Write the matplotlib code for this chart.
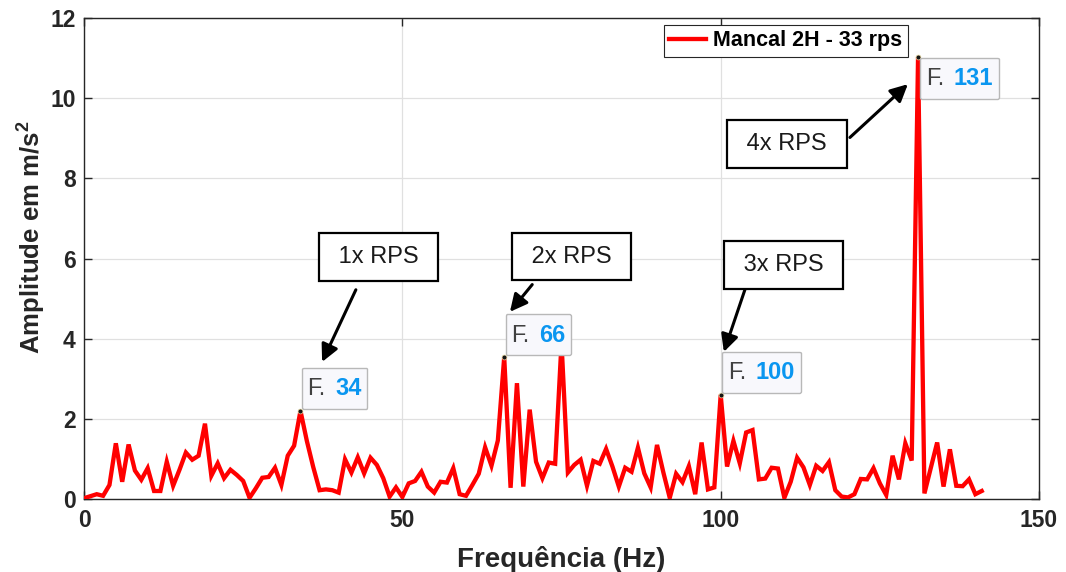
import matplotlib
matplotlib.use("Agg")
import matplotlib.pyplot as plt
from matplotlib.offsetbox import (TextArea, HPacker, VPacker, DrawingArea,
                                  AnnotationBbox)

plt.rcParams["font.family"] = ["Liberation Sans", "DejaVu Sans"]
plt.rcParams["mathtext.fontset"] = "custom"
plt.rcParams["mathtext.rm"] = "Liberation Sans"
plt.rcParams["mathtext.bf"] = "Liberation Sans:bold"

# Vibration spectrum of bearing 2H at 33 rps (1 Hz bins)
freq_hz = list(range(0, 142))
amplitude = [
    0.02, 0.07, 0.12, 0.08, 0.35, 1.39, 0.43, 1.36, 0.71, 0.48,
    0.77, 0.20, 0.20, 0.93, 0.33, 0.73, 1.16, 0.98, 1.08, 1.88,
    0.58, 0.89, 0.52, 0.73, 0.60, 0.45, 0.03, 0.27, 0.53, 0.55,
    0.78, 0.35, 1.08, 1.33, 2.20, 1.45, 0.80, 0.22, 0.24, 0.22,
    0.16, 0.99, 0.66, 1.04, 0.64, 1.03, 0.85, 0.52, 0.06, 0.29,
    0.05, 0.39, 0.45, 0.68, 0.31, 0.16, 0.43, 0.41, 0.77, 0.12,
    0.08, 0.35, 0.63, 1.29, 0.83, 1.46, 3.54, 0.28, 2.89, 0.31,
    2.23, 0.93, 0.52, 0.91, 0.88, 3.90, 0.66, 0.85, 0.98, 0.33,
    0.95, 0.88, 1.25, 0.81, 0.31, 0.78, 0.68, 1.28, 0.64, 0.29,
    1.35, 0.66, 0.03, 0.63, 0.42, 0.82, 0.12, 1.41, 0.24, 0.29,
    2.60, 0.81, 1.45, 0.89, 1.66, 1.72, 0.49, 0.51, 0.78, 0.76,
    0.03, 0.43, 1.03, 0.79, 0.35, 0.83, 0.70, 0.92, 0.22, 0.06,
    0.04, 0.12, 0.50, 0.49, 0.77, 0.39, 0.10, 1.08, 0.49, 1.39,
    0.96, 11.03, 0.14, 0.77, 1.41, 0.31, 1.24, 0.33, 0.32, 0.49,
    0.12, 0.20,
]
series_label = "Mancal 2H - 33 rps"

# Harmonic peaks marked with data tips
tip_freqs = [34, 66, 100, 131]
harmonic_labels = ["1x RPS", "2x RPS", "3x RPS", "4x RPS"]
x_ticks = [0, 50, 100, 150]
y_ticks = [0, 2, 4, 6, 8, 10, 12]

dark = (0.15, 0.15, 0.15)

fig = plt.figure(figsize=(10.66, 5.72), dpi=100)
ax = fig.add_axes([0.0788, 0.1276, 0.8959, 0.8409])

ax.plot(freq_hz, amplitude, color="#ff0000", lw=3.1, label=series_label,
        solid_joinstyle="miter", zorder=3)

ax.set_xlim(0, 150)
ax.set_ylim(0, 12)
ax.set_xticks(x_ticks)
ax.set_yticks(y_ticks)
ax.grid(True, color=(0.88, 0.88, 0.88), lw=0.9)
ax.set_axisbelow(True)
for s in ax.spines.values():
    s.set_color(dark)
    s.set_linewidth(1.0)
ax.tick_params(direction="in", length=6, width=1, colors=dark,
               top=True, right=True, labelsize=16.5)
ax.tick_params(axis="x", pad=7)
ax.tick_params(axis="y", pad=6)
for lbl in ax.get_xticklabels() + ax.get_yticklabels():
    lbl.set_fontweight("bold")
    lbl.set_color(dark)

ax.set_xlabel("Frequência (Hz)", fontsize=20, fontweight="bold",
              color=dark)
ax.set_ylabel("Amplitude em m/s$^{\\mathbf{2}}$", fontsize=18.5,
              fontweight="bold", color=dark)
ax.xaxis.set_label_coords(0.5, -0.097)
ax.yaxis.set_label_coords(-0.0385, 0.543)

leg = ax.legend(loc="upper right", bbox_to_anchor=(0.863, 0.986),
                borderaxespad=0, fancybox=False, edgecolor=dark,
                framealpha=1, handlelength=1.7, handletextpad=0.35,
                borderpad=0.26, prop={"weight": "bold", "size": 15.5})
leg.get_frame().set_linewidth(0.8)

# Data tips on the harmonic peaks
amp_by_freq = dict(zip(freq_hz, amplitude))
for f in tip_freqs:
    a = amp_by_freq[f]
    ax.plot([f], [a], "o", ms=3.5, color="#151515", mec="#e8d9a0",
            mew=0.5, zorder=6)
    row = HPacker(children=[
        TextArea("F.", textprops=dict(color="#404040", size=17)),
        TextArea(str(f), textprops=dict(color="#0a96f0", size=17,
                                        weight="bold")),
    ], align="baseline", pad=0, sep=7)
    tip = VPacker(children=[DrawingArea(1, 3), row, DrawingArea(1, 2)],
                  align="left", pad=4, sep=0)
    below = a > 10
    ab = AnnotationBbox(
        tip, (f, a), xybox=(1.5, -0.5) if below else (1, 1.5),
        xycoords="data", boxcoords="offset points",
        box_alignment=(0, 1) if below else (0, 0), pad=0,
        frameon=True,
        bboxprops=dict(boxstyle="round,pad=0,rounding_size=0.12",
                       fc="#f8f8fc", ec="#b8b8b8", lw=1.0),
        zorder=7)
    ax.add_artist(ab)

# Text arrows pointing at each harmonic
text_pos = [(46.3, 6.03), (76.6, 6.05), (109.9, 5.85), (110.4, 8.85)]
arrow_tail = [(42.7, 5.22), (70.4, 5.35), (103.8, 5.22), (120.3, 9.02)]
arrow_head = [(37.4, 3.42), (66.9, 4.67), (100.5, 3.67), (129.4, 10.35)]
for lab, tp, tail, head in zip(harmonic_labels, text_pos, arrow_tail,
                               arrow_head):
    ax.annotate("", xy=head, xytext=tail, xycoords="data",
                arrowprops=dict(arrowstyle="-|>", color="k", lw=2.2,
                                mutation_scale=26, shrinkA=0, shrinkB=0),
                zorder=8)
    ax.text(tp[0], tp[1], " " + lab + " ", ha="center", va="center",
            fontsize=17, color="#1a1a1a", zorder=8,
            bbox=dict(boxstyle="square,pad=0.55", fc="white", ec="k",
                      lw=1.6))

fig.savefig("out.png", dpi=100, facecolor="white")
